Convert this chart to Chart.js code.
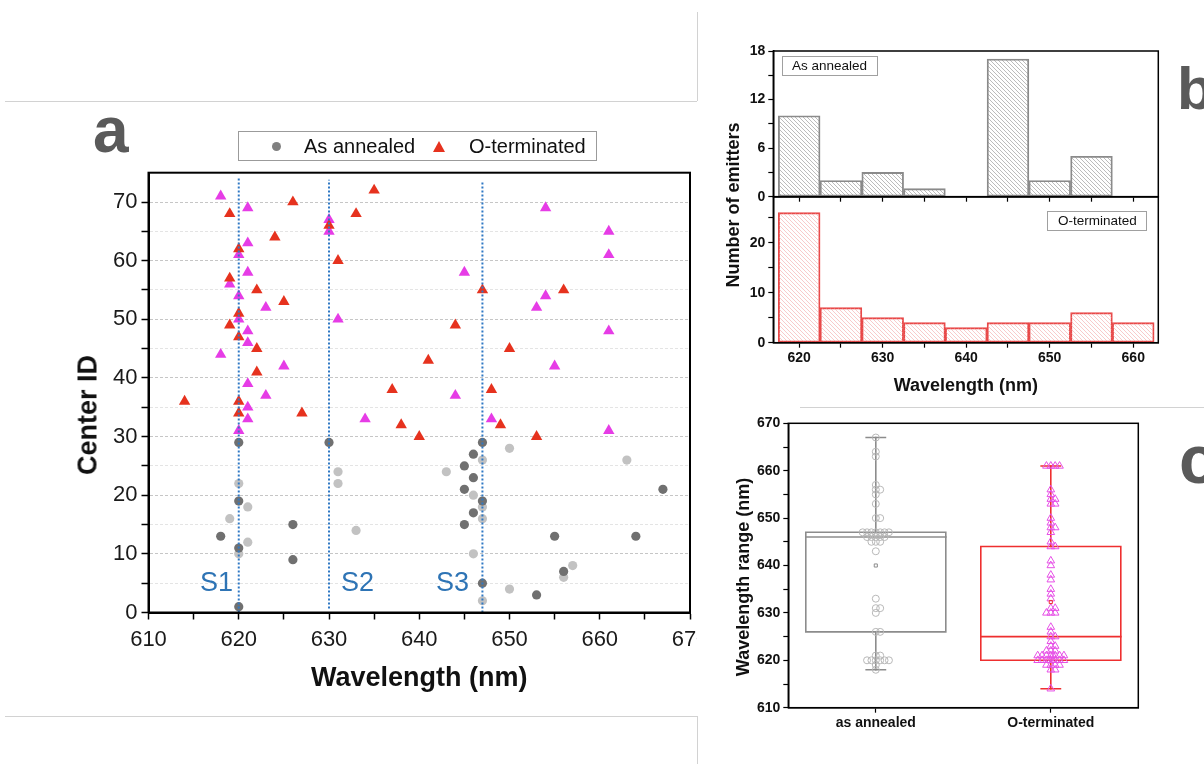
<!DOCTYPE html>
<html lang="en">
<head>
<meta charset="UTF-8">
<title>Emitter wavelengths</title>
<script src="https://cdn.jsdelivr.net/npm/chart.js"></script>
<style>
  body { margin: 0; background: #fff; font-family: 'Liberation Sans', Arial, sans-serif; color: #111; }
  #page { position: relative; width: 1204px; height: 764px; overflow: hidden; }
  .rule { position: absolute; background: #d2d2d2; }
  .tag { position: absolute; font-weight: bold; color: #5a5a5a; line-height: 1; }
  .vtitle { position: absolute; font-weight: bold; white-space: nowrap; line-height: 1;
            transform: translate(-50%, -50%) rotate(-90deg); }
  .site { position: absolute; color: #2e74b5; font-size: 27px; line-height: 1; }
  .box { position: absolute; box-sizing: border-box; border: 1px solid #a0a0a0; white-space: nowrap; }
</style>
</head>
<body>
<div id="page">
  <div class="rule" style="left:5px;top:101px;width:692px;height:1px;"></div>
  <div class="rule" style="left:697px;top:12px;width:1px;height:89px;"></div>
  <div class="rule" style="left:5px;top:716px;width:692px;height:1px;"></div>
  <div class="rule" style="left:697px;top:716px;width:1px;height:48px;"></div>
  <div class="rule" style="left:800px;top:407px;width:404px;height:1px;"></div>

  <div style="position:absolute;left:0;top:100px;width:697px;height:616px;overflow:hidden;">
    <canvas id="chartA" width="740" height="616"></canvas>
  </div>
  <canvas id="chartB1" width="504" height="180" style="position:absolute;left:700px;top:30px;"></canvas>
  <canvas id="chartB2" width="504" height="215" style="position:absolute;left:700px;top:190px;"></canvas>
  <canvas id="chartC" width="504" height="352" style="position:absolute;left:700px;top:412px;"></canvas>

  <div class="tag" style="left:93px;top:98px;font-size:64px;">a</div>
  <div class="tag" style="left:1177px;top:59px;font-size:60px;">b</div>
  <div class="tag" style="left:1179px;top:425px;font-size:68px;">c</div>

  <div class="box" style="left:238px;top:131px;width:359px;height:30px;border-color:#9b9b9b;font-size:20px;">
    <span style="position:absolute;left:33px;top:10px;width:9px;height:9px;border-radius:50%;background:#808080;"></span>
    <span style="position:absolute;left:65px;top:0;line-height:28px;">As annealed</span>
    <span style="position:absolute;left:194px;top:9px;width:0;height:0;border-left:6px solid transparent;border-right:6px solid transparent;border-bottom:11px solid #e6321e;"></span>
    <span style="position:absolute;left:230px;top:0;line-height:28px;">O-terminated</span>
  </div>

  <div class="site" style="left:200px;top:569px;">S1</div>
  <div class="site" style="left:341px;top:569px;">S2</div>
  <div class="site" style="left:436px;top:569px;">S3</div>

  <div class="vtitle" style="left:88px;top:415px;font-size:27px;">Center ID</div>
  <div class="vtitle" style="left:732.5px;top:204.5px;font-size:18px;">Number of emitters</div>
  <div class="vtitle" style="left:742.5px;top:577px;font-size:18px;">Wavelength range (nm)</div>

  <div class="box" style="left:782px;top:56px;width:96px;height:20px;font-size:13.5px;line-height:18px;padding-left:9px;">As annealed</div>
  <div class="box" style="left:1047px;top:211px;width:100px;height:20px;font-size:13.5px;line-height:18px;padding-left:10px;">O-terminated</div>
</div>

<script>
  // panel a: emitter wavelength (nm) vs center ID
  const annDarkWl  = [620, 630, 620, 626, 618, 620, 626, 620, 647, 646, 645, 646, 645, 667, 647, 646, 645, 655, 664, 656, 647, 653];
  const annDarkId  = [29, 29, 19, 15, 13, 11, 9, 1, 29, 27, 25, 23, 21, 21, 19, 17, 15, 13, 13, 7, 5, 3];
  const annLightWl = [631, 631, 620, 621, 619, 633, 621, 620, 650, 647, 663, 643, 646, 647, 647, 646, 657, 656, 650, 647];
  const annLightId = [24, 22, 22, 18, 16, 14, 12, 10, 28, 26, 26, 24, 20, 18, 16, 10, 8, 6, 4, 2];

  const oRedWl = [626, 635, 619, 633, 630, 624, 620, 631, 619, 622, 625, 620, 619, 620, 622, 622, 637,
                  647, 656, 644, 650, 641, 648, 614, 620, 620, 627, 638, 640, 649, 653];
  const oRedId = [70, 72, 68, 68, 66, 64, 62, 60, 57, 55, 53, 51, 49, 47, 45, 41, 38,
                  55, 55, 49, 45, 43, 38, 36, 36, 34, 34, 32, 30, 32, 30];
  const oMagWl = [618, 621, 630, 630, 621, 620, 621, 619, 620, 623, 620, 631, 621, 621, 618, 625, 621,
                  654, 661, 661, 645, 654, 653, 661, 655, 623, 621, 621, 620, 634, 644, 648, 661];
  const oMagId = [71, 69, 67, 65, 63, 61, 58, 56, 54, 52, 50, 50, 48, 46, 44, 42, 39,
                  69, 65, 61, 58, 54, 52, 48, 42, 37, 35, 33, 31, 33, 37, 33, 31];

  const siteWl   = [620, 630, 647];
  const siteFrom = [0, 0.7, 0];
  const siteTo   = [74.1, 73.8, 73.4];

  const xTicksA = [610, 615, 620, 625, 630, 635, 640, 645, 650, 655, 660, 665, 670];
  const yTicksA = [0, 5, 10, 15, 20, 25, 30, 35, 40, 45, 50, 55, 60, 65, 70];

  // panel b: histograms, 5 nm bins
  const binCenters = [620, 625, 630, 635, 640, 645, 650, 655, 660];
  const annCounts  = [10, 2, 3, 1, 0, 17, 2, 5, 0];
  const oCounts    = [26, 7, 5, 4, 3, 4, 4, 6, 4];
  const xTicksB  = [620, 625, 630, 635, 640, 645, 650, 655, 660];
  const yTicksB1 = [0, 3, 6, 9, 12, 15, 18];
  const yTicksB2 = [0, 5, 10, 15, 20, 25];

  // panel c: box statistics
  const boxGroups = ['as annealed', 'O-terminated'];
  const boxMin    = [618, 614];
  const boxQ1     = [626, 620];
  const boxMedian = [646, 625];
  const boxQ3     = [647, 644];
  const boxMax    = [667, 661];
  const boxMean   = [640, 632.3];
  const yTicksC = [610, 615, 620, 625, 630, 635, 640, 645, 650, 655, 660, 665, 670];

  const FAMILY = "'Liberation Sans', Arial, sans-serif";
  const pairs = (xs, ys) => xs.map((x, i) => ({ x: x, y: ys[i] }));
  const setTicks = arr => scale => { scale.ticks = arr.map(v => ({ value: v })); };
  const fitY = w => s => { s.width = w; s.paddingTop = 0; s.paddingBottom = 0; };
  const fitX = h => s => { s.height = h; s.paddingLeft = 0; s.paddingRight = 0; };

  const framePlugin = {
    id: 'frame',
    afterDraw(chart, args, opts) {
      const { ctx, chartArea: a } = chart;
      ctx.save();
      ctx.strokeStyle = '#000';
      ctx.lineWidth = opts.width || 1.5;
      ctx.strokeRect(a.left, a.top, a.right - a.left, a.bottom - a.top);
      ctx.restore();
    }
  };
  Chart.register(framePlugin);

  function hatch(color) {
    const c = document.createElement('canvas');
    c.width = c.height = 4;
    const g = c.getContext('2d');
    g.strokeStyle = color;
    g.lineWidth = 0.6;
    g.beginPath();
    g.moveTo(0, 0); g.lineTo(4, 4);
    g.moveTo(-1, 3); g.lineTo(1, 5);
    g.moveTo(3, -1); g.lineTo(5, 1);
    g.stroke();
    return g.createPattern(c, 'repeat');
  }

  const common = {
    responsive: false,
    animation: false,
    devicePixelRatio: 1,
    plugins: { legend: { display: false }, tooltip: { enabled: false } }
  };

  // ---- panel a ----
  const siteSets = siteWl.map((w, i) => ({
    data: [{ x: w, y: siteFrom[i] }, { x: w, y: siteTo[i] }],
    showLine: true, pointRadius: 0, borderColor: '#2f78c4', borderWidth: 2,
    borderDash: [2, 2], order: 0
  }));

  new Chart(document.getElementById('chartA'), {
    type: 'scatter',
    data: {
      datasets: siteSets.concat([
        { label: 'As annealed', data: pairs(annDarkWl, annDarkId), pointStyle: 'circle', pointRadius: 4.6,
          backgroundColor: '#707070', borderWidth: 0, order: 1 },
        { data: pairs(annLightWl, annLightId), pointStyle: 'circle', pointRadius: 4.6,
          backgroundColor: '#c2c2c2', borderWidth: 0, order: 1 },
        { label: 'O-terminated', data: pairs(oRedWl, oRedId), pointStyle: 'triangle', pointRadius: 6.6,
          backgroundColor: '#e6321e', borderWidth: 0, order: 1 },
        { data: pairs(oMagWl, oMagId), pointStyle: 'triangle', pointRadius: 6.6,
          backgroundColor: '#e63ce6', borderWidth: 0, order: 1 }
      ])
    },
    options: Object.assign({}, common, {
      layout: { padding: { left: 0, top: 72.7, right: 50, bottom: 0 } },
      plugins: Object.assign({}, common.plugins, { frame: { width: 2 } }),
      scales: {
        x: {
          type: 'linear', min: 610, max: 670,
          afterBuildTicks: setTicks(xTicksA), afterFit: fitX(103.5),
          ticks: { callback: v => (v % 10 === 0 ? String(v) : ''), autoSkip: false, maxRotation: 0,
                   padding: 7, color: '#1a1a1a', font: { family: FAMILY, size: 22 } },
          grid: { drawOnChartArea: false, tickLength: 7, tickColor: '#000', tickWidth: 1.5 },
          border: { color: '#000', width: 2 },
          title: { display: true, text: 'Wavelength (nm)', color: '#111',
                   font: { family: FAMILY, size: 27, weight: 'bold' }, padding: { top: 0, bottom: 20.8 } }
        },
        y: {
          type: 'linear', min: 0, max: 75,
          afterBuildTicks: setTicks(yTicksA), afterFit: fitY(148.5),
          ticks: { callback: v => (v % 10 === 0 ? String(v) : ''), autoSkip: false,
                   padding: 4, color: '#1a1a1a', font: { family: FAMILY, size: 22 } },
          grid: { color: c => (c.tick && c.tick.value % 10 === 0 ? '#c6c6c6' : '#e4e4e4'),
                  tickLength: 7, tickColor: '#000', tickWidth: 1.5, tickBorderDash: [] },
          border: { color: '#000', width: 2, dash: [3, 2] }
        }
      }
    })
  });

  // ---- panel b ----
  function histChart(id, counts, fill, edge, yMax, yTicks, labelStep, padTop, xHeight, showX) {
    const xAxis = {
      type: 'linear', min: 616.9, max: 663, offset: false,
      afterBuildTicks: setTicks(xTicksB), afterFit: fitX(xHeight),
      ticks: { display: showX, callback: v => (v % 10 === 0 ? String(v) : ''), autoSkip: false, maxRotation: 0,
               padding: 2, color: '#111', font: { family: FAMILY, size: 14, weight: 'bold' } },
      grid: { offset: false, drawOnChartArea: false, tickLength: 5, tickColor: '#000', tickWidth: 1.2 },
      border: { color: '#000', width: 1.5 }
    };
    if (showX) {
      xAxis.title = { display: true, text: 'Wavelength (nm)', color: '#111',
                      font: { family: FAMILY, size: 18, weight: 'bold' }, padding: { top: 0, bottom: 8.2 } };
    }
    return new Chart(document.getElementById(id), {
      type: 'bar',
      data: {
        datasets: [{
          data: pairs(binCenters, counts),
          backgroundColor: hatch(fill), borderColor: edge, borderWidth: 1.2, borderSkipped: false,
          barPercentage: 1, categoryPercentage: 1, grouped: false
        }]
      },
      options: Object.assign({}, common, {
        layout: { padding: { left: 0, top: padTop, right: 45.7, bottom: 0 } },
        plugins: Object.assign({}, common.plugins, { frame: { width: 1.5 } }),
        scales: {
          x: xAxis,
          y: {
            type: 'linear', min: 0, max: yMax,
            afterBuildTicks: setTicks(yTicks), afterFit: fitY(73.3),
            ticks: { callback: v => (v % labelStep === 0 ? String(v) : ''), autoSkip: false,
                     padding: 3, color: '#111', font: { family: FAMILY, size: 14, weight: 'bold' } },
            grid: { drawOnChartArea: false, tickLength: 5, tickColor: '#000', tickWidth: 1.2 },
            border: { color: '#000', width: 1.5 }
          }
        }
      })
    });
  }
  histChart('chartB1', annCounts, '#8e8e8e', '#8a8a8a', 18, yTicksB1, 6, 21, 13.3, false);
  histChart('chartB2', oCounts, '#f4a8a8', '#e84848', 29.2, yTicksB2, 10, 6.7, 62.3, true);

  // ---- panel c ----
  const boxHalf = 0.4, capHalf = 0.055;
  const spread = [0, 0.025, -0.025, 0.05, -0.05, 0.075, -0.075, 0.0125, -0.0125, 0.0375, -0.0375, 0.0625, -0.0625];

  function swarm(values, center) {
    const seen = {};
    return values.map(v => {
      const k = seen[v] = (seen[v] === undefined ? 0 : seen[v] + 1);
      return { x: center + spread[k % spread.length], y: v };
    });
  }

  function boxSets(i, color) {
    const c = i + 1;
    const seg = pts => ({ data: pts, showLine: true, pointRadius: 0, borderColor: color, borderWidth: 1.6,
                          borderJoinStyle: 'miter', borderCapStyle: 'square', fill: false, order: 2 });
    return [
      seg([{ x: c - boxHalf, y: boxQ1[i] }, { x: c + boxHalf, y: boxQ1[i] }, { x: c + boxHalf, y: boxQ3[i] },
           { x: c - boxHalf, y: boxQ3[i] }, { x: c - boxHalf, y: boxQ1[i] }]),
      seg([{ x: c - boxHalf, y: boxMedian[i] }, { x: c + boxHalf, y: boxMedian[i] }]),
      seg([{ x: c, y: boxQ3[i] }, { x: c, y: boxMax[i] }]),
      seg([{ x: c, y: boxQ1[i] }, { x: c, y: boxMin[i] }]),
      seg([{ x: c - capHalf, y: boxMax[i] }, { x: c + capHalf, y: boxMax[i] }]),
      seg([{ x: c - capHalf, y: boxMin[i] }, { x: c + capHalf, y: boxMin[i] }])
    ];
  }

  new Chart(document.getElementById('chartC'), {
    type: 'scatter',
    data: {
      datasets: boxSets(0, '#8c8c8c').concat(boxSets(1, '#ee2f2f'), [
        { data: swarm(annDarkWl.concat(annLightWl), 1), pointStyle: 'circle', pointRadius: 3.5,
          backgroundColor: 'rgba(0,0,0,0)', borderColor: '#b8b8b8', borderWidth: 1, order: 1 },
        { data: swarm(oRedWl.concat(oMagWl), 2), pointStyle: 'triangle', pointRadius: 4.4,
          backgroundColor: 'rgba(0,0,0,0)', borderColor: '#e650e6', borderWidth: 1, order: 1 },
        { data: [{ x: 1, y: boxMean[0] }], pointStyle: 'rect', pointRadius: 2.2,
          backgroundColor: 'rgba(0,0,0,0)', borderColor: '#8c8c8c', borderWidth: 1, order: 0 },
        { data: [{ x: 2, y: boxMean[1] }], pointStyle: 'rect', pointRadius: 2.2,
          backgroundColor: 'rgba(0,0,0,0)', borderColor: '#ee2f2f', borderWidth: 1, order: 0 }
      ])
    },
    options: Object.assign({}, common, {
      layout: { padding: { left: 0, top: 11.3, right: 65.7, bottom: 0 } },
      plugins: Object.assign({}, common.plugins, { frame: { width: 1.5 } }),
      scales: {
        x: {
          type: 'linear', min: 0.5, max: 2.5,
          afterBuildTicks: setTicks([1, 2]), afterFit: fitX(56.3),
          ticks: { callback: v => boxGroups[v - 1], autoSkip: false, maxRotation: 0,
                   padding: 2, color: '#111', font: { family: FAMILY, size: 14, weight: 'bold' } },
          grid: { drawOnChartArea: false, tickLength: 5, tickColor: '#000', tickWidth: 1.2 },
          border: { color: '#000', width: 1.5 }
        },
        y: {
          type: 'linear', min: 610, max: 670,
          afterBuildTicks: setTicks(yTicksC), afterFit: fitY(88.3),
          ticks: { callback: v => (v % 10 === 0 ? String(v) : ''), autoSkip: false,
                   padding: 3, color: '#111', font: { family: FAMILY, size: 14, weight: 'bold' } },
          grid: { drawOnChartArea: false, tickLength: 5, tickColor: '#000', tickWidth: 1.2 },
          border: { color: '#000', width: 1.5 }
        }
      }
    })
  });
</script>
</body>
</html>
